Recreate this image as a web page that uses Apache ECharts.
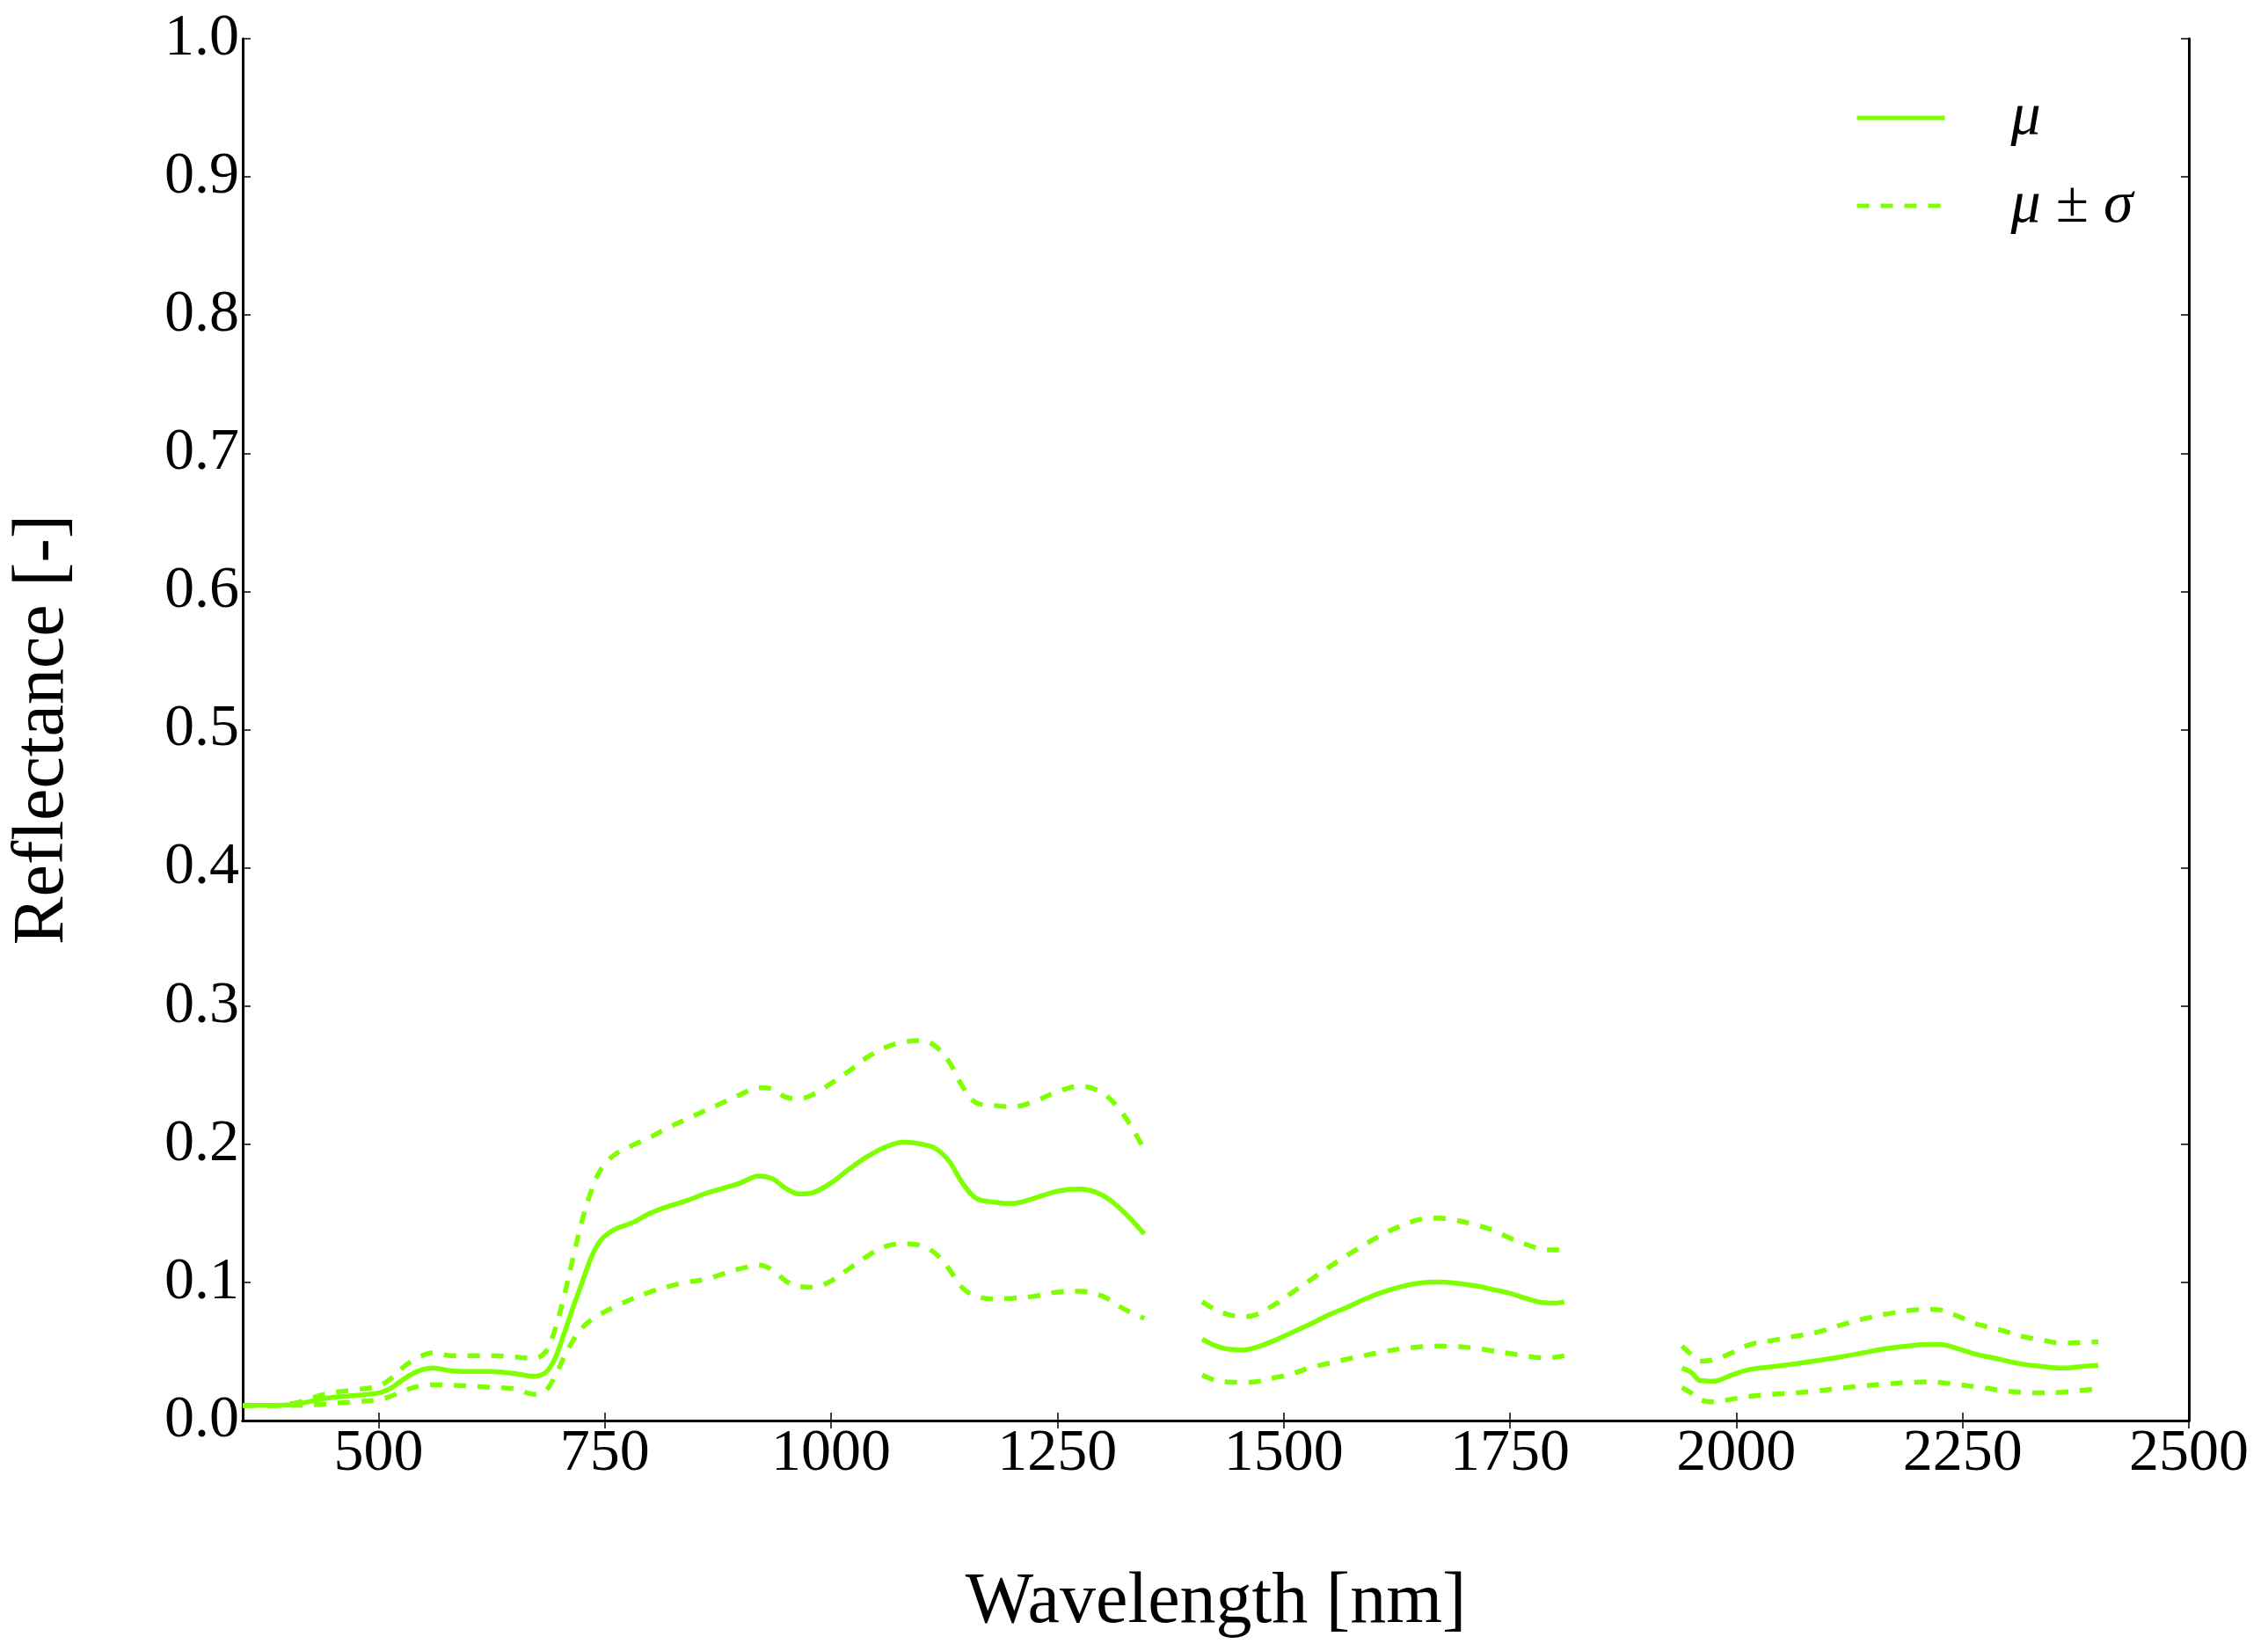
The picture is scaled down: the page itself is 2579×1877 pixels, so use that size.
<!DOCTYPE html>
<html>
<head>
<meta charset="utf-8">
<script src="https://cdn.jsdelivr.net/npm/echarts@6/dist/echarts.min.js"></script>
<style>
html,body{margin:0;padding:0;background:#fff;}
#chart{width:2579px;height:1877px;}
</style>
</head>
<body>
<div id="chart"></div>
<script>
// Segment 1 (VNIR / SWIR-1)
const wl1 = [350,380,410,440,470,500,515,530,545,560,580,600,625,650,672,685,695,705,715,725,735,745,760,780,800,820,840,860,880,900,920,935,950,965,980,1000,1020,1040,1060,1080,1100,1115,1130,1145,1160,1180,1200,1225,1250,1275,1300,1320,1335,1346];
const mean1 = [0.011,0.011,0.012,0.016,0.018,0.020,0.024,0.031,0.036,0.038,0.036,0.0355,0.0355,0.034,0.032,0.035,0.045,0.063,0.082,0.100,0.118,0.130,0.138,0.143,0.150,0.155,0.159,0.164,0.168,0.172,0.177,0.175,0.168,0.164,0.165,0.172,0.182,0.191,0.198,0.2015,0.200,0.197,0.188,0.172,0.161,0.158,0.157,0.161,0.166,0.1675,0.163,0.153,0.143,0.135];
const upper1 = [0.011,0.011,0.013,0.019,0.022,0.025,0.031,0.040,0.046,0.049,0.047,0.047,0.047,0.046,0.045,0.050,0.066,0.090,0.118,0.145,0.166,0.181,0.192,0.199,0.205,0.212,0.218,0.224,0.230,0.236,0.241,0.240,0.234,0.233,0.236,0.244,0.253,0.263,0.270,0.274,0.275,0.271,0.260,0.242,0.230,0.228,0.227,0.231,0.238,0.242,0.237,0.224,0.209,0.196];
const lower1 = [0.011,0.011,0.011,0.012,0.0135,0.015,0.018,0.022,0.025,0.026,0.0255,0.025,0.024,0.023,0.019,0.022,0.032,0.046,0.058,0.067,0.073,0.077,0.082,0.088,0.093,0.097,0.100,0.102,0.106,0.110,0.1125,0.109,0.101,0.097,0.0965,0.101,0.110,0.119,0.126,0.128,0.1265,0.121,0.110,0.096,0.090,0.088,0.0885,0.090,0.093,0.0935,0.090,0.082,0.077,0.074];

// Segment 2 (SWIR-2)
const wl2 = [1410,1425,1440,1455,1470,1490,1510,1530,1550,1570,1590,1610,1630,1650,1670,1690,1710,1730,1750,1770,1785,1800,1810];
const mean2 = [0.059,0.054,0.0515,0.051,0.053,0.058,0.064,0.070,0.0765,0.082,0.088,0.093,0.097,0.0995,0.1002,0.0995,0.0977,0.095,0.092,0.088,0.0855,0.085,0.086];
const upper2 = [0.086,0.080,0.0765,0.0752,0.0768,0.084,0.093,0.102,0.111,0.1195,0.1275,0.135,0.141,0.1455,0.1465,0.145,0.142,0.138,0.132,0.127,0.124,0.1235,0.124];
const lower2 = [0.033,0.029,0.0278,0.0276,0.0282,0.031,0.034,0.0385,0.0415,0.0445,0.0472,0.0498,0.052,0.0533,0.0539,0.0535,0.0525,0.0505,0.0485,0.0465,0.0455,0.0458,0.047];

// Segment 3 (SWIR-3)
const wl3 = [1940,1950,1960,1975,1995,2015,2040,2065,2090,2115,2140,2165,2190,2210,2225,2245,2265,2290,2315,2340,2360,2380,2400];
const mean3 = [0.038,0.035,0.029,0.0285,0.033,0.037,0.039,0.041,0.0435,0.046,0.049,0.052,0.054,0.055,0.055,0.052,0.048,0.0445,0.041,0.039,0.038,0.039,0.040];
const upper3 = [0.054,0.048,0.043,0.044,0.049,0.055,0.058,0.061,0.064,0.069,0.0735,0.077,0.0795,0.0805,0.080,0.0755,0.070,0.066,0.061,0.058,0.056,0.0565,0.057];
const lower3 = [0.024,0.020,0.015,0.0135,0.0155,0.0175,0.019,0.020,0.0215,0.0235,0.025,0.0265,0.0275,0.028,0.0275,0.026,0.0245,0.022,0.0205,0.020,0.0205,0.0218,0.023];

// Gaps between segments (water absorption bands)
const gapAt = [1380, 1875];

// Axis ticks
const xTicks = [500,750,1000,1250,1500,1750,2000,2250,2500];
const xRange = [350, 2500];
const yRange = [0, 1];

const seriesNames = ['μ', 'μ ± σ'];

function pairs(wl, v){ return wl.map((w,i)=>[w, v[i]]); }
function joined(a,b,c){
  return [].concat(pairs(wl1,a), [[gapAt[0],'-']], pairs(wl2,b), [[gapAt[1],'-']], pairs(wl3,c));
}

const FONT = '"Liberation Serif", "DejaVu Serif", serif';
const GREEN = '#7FFF00';
const LW = 5.5;
const DASH = [14,13];
const SMOOTH = 0.35;

const chart = echarts.init(document.getElementById('chart'), null, {renderer:'canvas'});

const baseAxisLine = {show:true, lineStyle:{color:'#000', width:3}};
const option = {
  backgroundColor:'#fff',
  animation:false,
  grid:{left:276, right:90, top:44, bottom:262, containLabel:false},
  legend:{
    show:true,
    data:seriesNames,
    orient:'vertical',
    left:2104, top:95,
    itemWidth:100, itemHeight:14, itemGap:32,
    selectedMode:false,
    itemStyle:{opacity:0},
    lineStyle:{width:5},
    formatter:function(name){
      if(name==='μ') return '{it|μ}';
      return '{it|μ}{pm| ± }{it|σ}';
    },
    textStyle:{
      fontFamily:FONT, fontSize:68, color:'#000', lineHeight:68,
      padding:[0,0,0,70],
      rich:{
        it:{fontFamily:FONT, fontStyle:'italic', fontSize:68, lineHeight:68, color:'#000'},
        pm:{fontFamily:FONT, fontSize:68, lineHeight:68, color:'#000'}
      }
    }
  },
  xAxis:[{
    type:'value', min:xRange[0], max:xRange[1], position:'bottom',
    name:'Wavelength [nm]', nameLocation:'middle', nameGap:166,
    nameTextStyle:{fontFamily:FONT, fontSize:82, color:'#000'},
    axisLine:baseAxisLine,
    axisTick:{show:true, inside:true, length:9, lineStyle:{color:'#000', width:1.5}, customValues:xTicks},
    axisLabel:{show:true, customValues:xTicks, fontFamily:FONT, fontSize:68, color:'#000', margin:4,
      formatter:function(v){ return String(v); }},
    splitLine:{show:false}
  },{
    type:'value', min:xRange[0], max:xRange[1], position:'top',
    axisLine:baseAxisLine,
    axisTick:{show:true, inside:true, length:9, lineStyle:{color:'#000', width:1.5}, customValues:xTicks},
    axisLabel:{show:false},
    splitLine:{show:false}
  }],
  yAxis:[{
    type:'value', min:yRange[0], max:yRange[1], interval:0.1, position:'left',
    name:'Reflectance [-]', nameLocation:'middle', nameGap:186, nameRotate:90,
    nameTextStyle:{fontFamily:FONT, fontSize:82, color:'#000'},
    axisLine:baseAxisLine,
    axisTick:{show:true, inside:true, length:9, lineStyle:{color:'#000', width:1.5}},
    axisLabel:{show:true, fontFamily:FONT, fontSize:68, color:'#000', margin:4,
      formatter:function(v){ return v.toFixed(1); }},
    splitLine:{show:false}
  },{
    type:'value', min:yRange[0], max:yRange[1], interval:0.1, position:'right',
    axisLine:baseAxisLine,
    axisTick:{show:true, inside:true, length:9, lineStyle:{color:'#000', width:1.5}},
    axisLabel:{show:false},
    splitLine:{show:false}
  }],
  series:[
    {name:seriesNames[1], type:'line', data:joined(upper1,upper2,upper3), xAxisIndex:0, yAxisIndex:0,
     showSymbol:false, symbol:'none', smooth:SMOOTH, connectNulls:false,
     lineStyle:{color:GREEN, width:LW, type:DASH}, itemStyle:{color:GREEN}},
    {name:seriesNames[1], type:'line', data:joined(lower1,lower2,lower3), xAxisIndex:0, yAxisIndex:0,
     showSymbol:false, symbol:'none', smooth:SMOOTH, connectNulls:false,
     lineStyle:{color:GREEN, width:LW, type:DASH}, itemStyle:{color:GREEN}},
    {name:seriesNames[0], type:'line', data:joined(mean1,mean2,mean3), xAxisIndex:0, yAxisIndex:0,
     showSymbol:false, symbol:'none', smooth:SMOOTH, connectNulls:false,
     lineStyle:{color:GREEN, width:LW, type:'solid'}, itemStyle:{color:GREEN}}
  ]
};
chart.setOption(option);
</script>
</body>
</html>
